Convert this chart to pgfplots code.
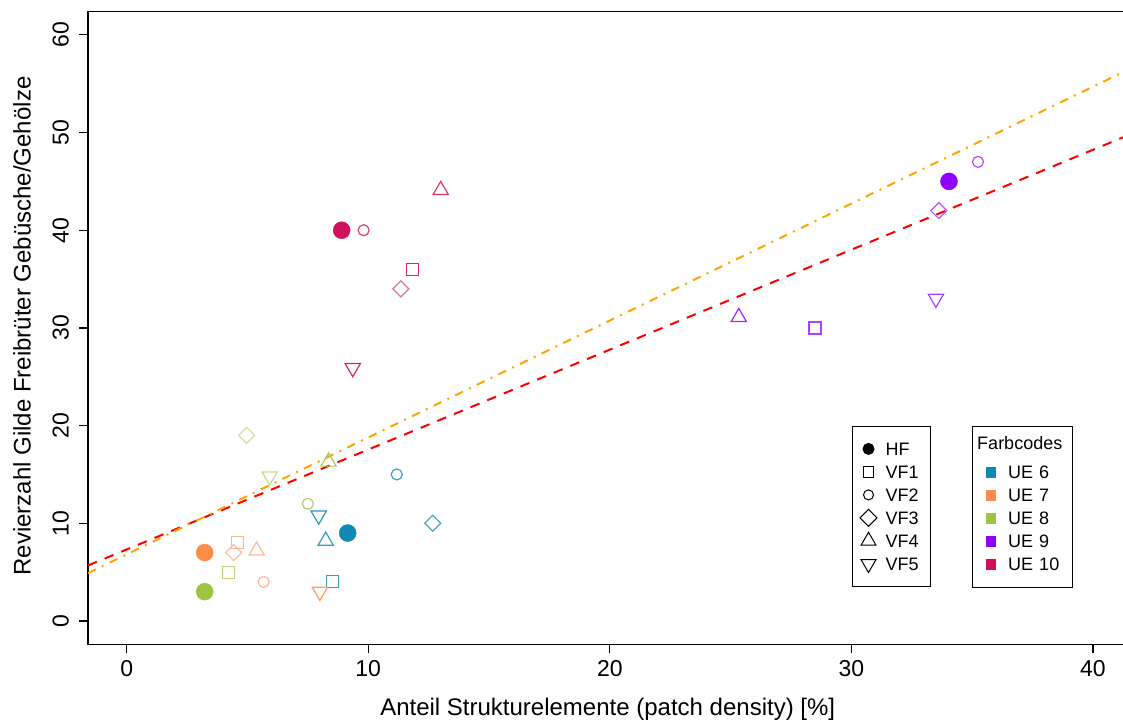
\documentclass[border=0pt]{standalone}
\usepackage{fontspec}
\setmainfont{Liberation Sans}
\usepackage{pgfplots}
\pgfplotsset{compat=1.18}

\definecolor{ueA}{HTML}{118AB2}
\definecolor{ueB}{HTML}{FF8C4A}
\definecolor{ueC}{HTML}{9DC443}
\definecolor{ueD}{HTML}{8F00FF}
\definecolor{ueE}{HTML}{D1105A}
\definecolor{orng}{HTML}{FFA500}

\pgfplotsset{
  hf/.style={only marks, mark=*, color=#1, mark size=4.25pt, mark options={line width=0.2pt}, forget plot},
  vfa/.style={only marks, mark=square, color=#1, mark size=3pt, mark options={line width=0.6pt}, forget plot},
  vfb/.style={only marks, mark=o, color=#1, mark size=2.75pt, mark options={line width=0.6pt}, forget plot},
  vfc/.style={only marks, mark=square, color=#1, mark size=2.83pt, mark options={line width=0.6pt, rotate=45}, forget plot},
  vfd/.style={only marks, mark=triangle, color=#1, mark size=4.4pt, mark options={line width=0.6pt}, forget plot},
  vfe/.style={only marks, mark=triangle, color=#1, mark size=4.4pt, mark options={line width=0.6pt, rotate=180}, forget plot},
}

\begin{document}
\begin{tikzpicture}
\begin{axis}[
  at={(0,0)}, anchor=south west,
  width=521.8pt, height=316.5pt, scale only axis,
  xmin=-1.6, xmax=41.6, ymin=-2.4, ymax=62.4,
  xtick={0,10,20,30,40}, ytick={0,10,20,30,40,50,60},
  xtick pos=bottom, ytick pos=left,
  tick align=outside, major tick length=4.5pt,
  axis line style={line width=0.6pt, black},
  tick style={line width=0.6pt, black},
  tick label style={font=\fontsize{11.5}{13}\selectfont},
  /pgf/number format/assume math mode=true,
  yticklabel style={rotate=90, anchor=south, yshift=1.5pt},
  xlabel={Anteil Strukturelemente (patch density) [\%]},
  ylabel={Revierzahl Gilde Freibrüter Gebüsche/Gehölze},
  label style={font=\fontsize{12}{14}\selectfont},
  xlabel style={at={(axis description cs:0.498,-0.1125)}, anchor=base},
  ylabel style={at={(axis description cs:-0.055,0.503)}, anchor=base, rotate=0},
  legend cell align=left,
  legend style={at={(axis description cs:0.7318,0.3455)}, anchor=north west,
    draw=black, line width=0.5pt, inner xsep=0pt, inner ysep=5.6pt,
    font=\fontsize{9}{10}\selectfont, row sep=0pt, column sep=0pt,
    cells={anchor=west},
    nodes={inner sep=0pt, text height=8.95pt, text depth=2.55pt, text width=22.5pt, align=left}},
  legend image code/.code={\path[draw=none, fill=none] (0pt,-0.1pt) rectangle (16.65pt,0.1pt);
    \draw[#1, overlay] plot coordinates {(8.15pt,0pt)};},
]
% UE 6
\addplot[hf=ueA] coordinates {(9.15,9)};
\addplot[vfa=ueA!85!white] coordinates {(8.53,4)};
\addplot[vfb=ueA!80!white] coordinates {(11.18,15)};
\addplot[vfc=ueA!75!white] coordinates {(12.67,10)};
\addplot[vfd=ueA!85!white] coordinates {(8.24,8.2)};
\addplot[vfe=ueA!90!white] coordinates {(7.95,10.8)};
% UE 7
\addplot[hf=ueB] coordinates {(3.23,7)};
\addplot[vfa=ueB!65!white] coordinates {(4.6,8)};
\addplot[vfb=ueB!60!white] coordinates {(5.67,4)};
\addplot[vfc=ueB!55!white] coordinates {(4.43,7)};
\addplot[vfd=ueB!60!white] coordinates {(5.38,7.2)};
\addplot[vfe=ueB!85!white] coordinates {(8.0,3)};
% UE 8
\addplot[hf=ueC] coordinates {(3.23,3)};
\addplot[vfa=ueC!70!white] coordinates {(4.22,5)};
\addplot[vfb=ueC!80!white] coordinates {(7.5,12)};
\addplot[vfc=ueC!50!white] coordinates {(4.97,19)};
\addplot[vfd=ueC!90!white] coordinates {(8.36,16.3)};
\addplot[vfe=ueC!60!white] coordinates {(5.92,14.8)};
% UE 9
\addplot[hf=ueD] coordinates {(34.04,45)};
\addplot[vfa=ueD!75!white] coordinates {(28.49,30)};
\addplot[vfb=ueD!70!white] coordinates {(35.24,47)};
\addplot[vfc=ueD!65!white] coordinates {(33.62,42)};
\addplot[vfd=ueD!85!white] coordinates {(25.34,31.1)};
\addplot[vfe=ueD!75!white] coordinates {(33.5,33)};
% UE 10
\addplot[hf=ueE] coordinates {(8.9,40)};
\addplot[vfa=ueE!90!white] coordinates {(11.84,36)};
\addplot[vfb=ueE!80!white] coordinates {(9.81,40)};
\addplot[vfc=ueE!60!white] coordinates {(11.35,34)};
\addplot[vfd=ueE!85!white] coordinates {(13.0,44.1)};
\addplot[vfe=ueE!90!white] coordinates {(9.36,25.9)};
% regression lines
\addplot[red, line width=1pt, dash pattern=on 4.8pt off 4.2pt, forget plot] coordinates {(-1.6,5.68) (41.6,49.87)};
\addplot[orng, line width=1pt, dash pattern=on 4.3pt off 3.35pt on 1pt off 3.35pt, forget plot] coordinates {(-1.6,4.90) (41.6,56.61)};
% legend of shapes
\addlegendimage{only marks, mark=*, black, mark size=2.75pt}
\addlegendentry{HF}
\addlegendimage{only marks, mark=square, black, mark size=2.67pt, mark options={line width=0.5pt}}
\addlegendentry{VF1}
\addlegendimage{only marks, mark=o, black, mark size=2.5pt, mark options={line width=0.5pt}}
\addlegendentry{VF2}
\addlegendimage{only marks, mark=square, black, mark size=3pt, mark options={line width=0.5pt, rotate=45}}
\addlegendentry{VF3}
\addlegendimage{only marks, mark=triangle, black, mark size=4.33pt, mark options={line width=0.5pt}}
\addlegendentry{VF4}
\addlegendimage{only marks, mark=triangle, black, mark size=4.33pt, mark options={line width=0.5pt, rotate=180}}
\addlegendentry{VF5}
\end{axis}

\begin{axis}[
  at={(0,0)}, anchor=south west,
  width=521.8pt, height=316.5pt, scale only axis,
  xmin=-1.6, xmax=41.6, ymin=-2.4, ymax=62.4,
  hide axis,
  legend cell align=left,
  legend style={at={(axis description cs:0.8468,0.3455)}, anchor=north west,
    draw=black, line width=0.5pt, inner xsep=0pt, inner ysep=5.6pt,
    font=\fontsize{9}{10}\selectfont, row sep=0pt, column sep=0pt,
    cells={anchor=west},
    nodes={inner sep=0pt, text height=8.95pt, text depth=2.55pt, text width=32pt, align=left}},
  legend image code/.code={\path[draw=none, fill=none] (0pt,-0.1pt) rectangle (18pt,0.1pt);
    \draw[#1, overlay] plot coordinates {(9.5pt,0pt)};},
]
\addlegendimage{empty legend}
\addlegendentry[text height=6.25pt, text depth=5.55pt]{\hspace*{-15.5pt}Farbcodes}
\addlegendimage{only marks, mark=square*, ueA, mark size=2.33pt, mark options={draw=none}}
\addlegendentry{UE 6}
\addlegendimage{only marks, mark=square*, ueB, mark size=2.33pt, mark options={draw=none}}
\addlegendentry{UE 7}
\addlegendimage{only marks, mark=square*, ueC, mark size=2.33pt, mark options={draw=none}}
\addlegendentry{UE 8}
\addlegendimage{only marks, mark=square*, ueD, mark size=2.33pt, mark options={draw=none}}
\addlegendentry{UE 9}
\addlegendimage{only marks, mark=square*, ueE, mark size=2.33pt, mark options={draw=none}}
\addlegendentry{UE 10}
\end{axis}
\pgfresetboundingbox
\path[use as bounding box] (-44pt,-40.3pt) rectangle (517.5pt,322.2pt);
\end{tikzpicture}
\end{document}
